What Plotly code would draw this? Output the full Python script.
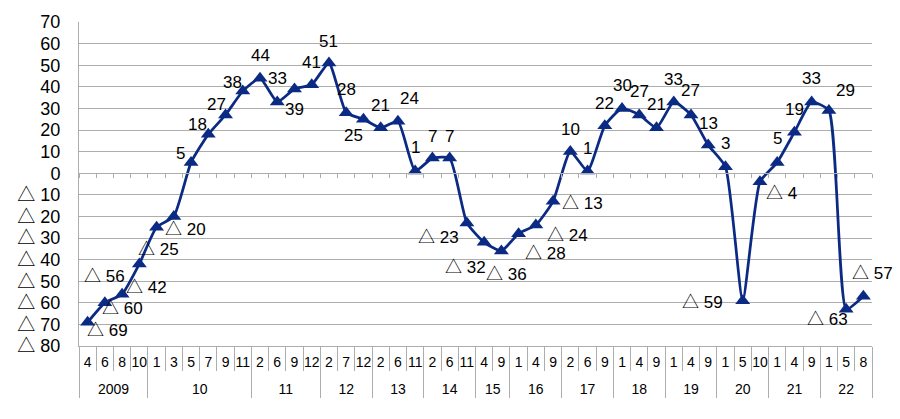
import plotly.graph_objects as go
import numpy as np

# ---- data ----
year_groups = ["2009", "10", "11", "12", "13", "14", "15", "16", "17", "18", "19", "20", "21", "22"]
months_by_year = [
    [4, 6, 8, 10],
    [1, 3, 5, 7, 9, 11],
    [2, 6, 9, 12],
    [2, 7, 12],
    [2, 6, 11],
    [2, 6, 11],
    [4, 9],
    [1, 4, 9],
    [2, 6, 9],
    [1, 4, 9],
    [1, 4, 9],
    [1, 5, 10],
    [1, 4, 9],
    [1, 5, 8],
]
values = [-69, -60, -56, -42, -25, -20, 5, 18, 27, 38,
          44, 33, 39, 41, 51, 28, 25, 21, 24, 1,
          7, 7, -23, -32, -36, -28, -24, -13, 10, 1,
          22, 30, 27, 21, 33, 27, 13, 3, -59, -4,
          5, 19, 33, 29, -63, -57]
y_ticks = list(range(-80, 71, 10))

# label placement (pixel offsets from each marker: dx right, dy down)
label_offsets = [
    (20, 8), (18, 6), (-18, -18), (7, 24), (2, 22), (12, 13), (-11, -9), (-11, -10),
    (-9, -10), (-10, -9), (0, -23), (0, -23), (0, 21), (0, -22), (0, -22), (0, -23),
    (-10, 16), (0, -22), (12, -23), (0, -24), (0, -22), (0, -22), (-28, 15), (-19, 25),
    (5, 24), (27, 20), (32, 10), (29, 2), (0, -22), (0, -23), (0, -22), (0, -23),
    (0, -23), (0, -23), (0, -22), (0, -24), (0, -22), (0, -23), (-40, 2), (22, 12),
    (0, -24), (0, -23), (0, -23), (17, -20), (-19, 10), (9, -23),
]

def fmt(v):
    return "△ " + str(-v) if v < 0 else str(v)

months = [str(m) for ms in months_by_year for m in ms]
n = len(values)
idx = list(range(n))
sizes = [len(ms) for ms in months_by_year]
bounds = list(np.concatenate([[0], np.cumsum(sizes)]) - 0.5)
centers = [(bounds[k] + bounds[k + 1]) / 2 for k in range(len(sizes))]
cat_edges = list(np.arange(n + 1) - 0.5)

NAVY = "#0B2A84"
GRID = "#ADADAD"
FONT = "Liberation Sans, Arial, Noto Sans CJK JP, sans-serif"
TRANSP = "rgba(0,0,0,0)"

fig = go.Figure()
fig.add_trace(go.Scatter(
    x=idx, y=values, mode="lines+markers",
    line=dict(color=NAVY, width=2.75, shape="spline", smoothing=0.5),
    marker=dict(symbol="triangle-up", size=13, color=NAVY),
    showlegend=False, hoverinfo="skip",
))
# invisible helpers so that the overlay axes are drawn
for ax in ["x2", "x3", "x4", "x5"]:
    fig.add_trace(go.Scatter(x=[0], y=[0], xaxis=ax, mode="markers",
                             marker=dict(opacity=0), showlegend=False, hoverinfo="skip"))

for i, (v, (dx, dy)) in enumerate(zip(values, label_offsets)):
    fig.add_annotation(x=i, y=v, xref="x", yref="y", text=fmt(v), showarrow=False,
                       xanchor="center", yanchor="middle", xshift=dx, yshift=-dy,
                       font=dict(size=17, color="black", family=FONT))

ymin, ymax = y_ticks[0], y_ticks[-1]
xr = [-0.5, n - 0.5]
common = dict(range=xr, showgrid=False, zeroline=False, overlaying="x")
fig.update_layout(
    width=900, height=419,
    margin=dict(l=79, r=28, t=20, b=73),
    paper_bgcolor="white", plot_bgcolor="white",
    font=dict(family=FONT, color="black"),
    # month labels
    xaxis=dict(
        range=xr, tickvals=idx, ticktext=months, tickangle=0,
        showgrid=False, showline=True, linecolor=GRID, zeroline=False,
        ticks="outside", ticklen=3, tickcolor=TRANSP,
        tickfont=dict(size=14, color="black"),
    ),
    # axis line through zero with small tick marks
    xaxis2=dict(
        **common, anchor="free", position=(0 - ymin) / (ymax - ymin),
        tickvals=cat_edges,
        ticks="outside", ticklen=4, tickcolor=GRID, showticklabels=False,
        showline=True, linecolor=GRID, linewidth=1,
    ),
    # month separators
    xaxis3=dict(
        **common, anchor="y", side="bottom",
        tickvals=cat_edges,
        ticks="outside", ticklen=24, tickcolor=GRID, showticklabels=False,
    ),
    # year separators
    xaxis4=dict(
        **common, anchor="y", side="bottom",
        tickvals=bounds,
        ticks="outside", ticklen=51, tickcolor=GRID, showticklabels=False,
    ),
    # year labels
    xaxis5=dict(
        **common, anchor="y", side="bottom",
        tickvals=centers, ticktext=year_groups, tickangle=0,
        ticks="outside", ticklen=30, tickcolor=TRANSP,
        tickfont=dict(size=14, color="black"),
    ),
    yaxis=dict(
        range=[ymin, ymax], tickvals=y_ticks,
        ticktext=[fmt(v) for v in y_ticks],
        showgrid=True, gridcolor=GRID, gridwidth=1, zeroline=False,
        showline=True, linecolor=GRID, ticks="outside", ticklen=14, tickcolor=TRANSP,
        tickfont=dict(size=18, color="black"),
    ),
)
fig.write_html("out.html")
